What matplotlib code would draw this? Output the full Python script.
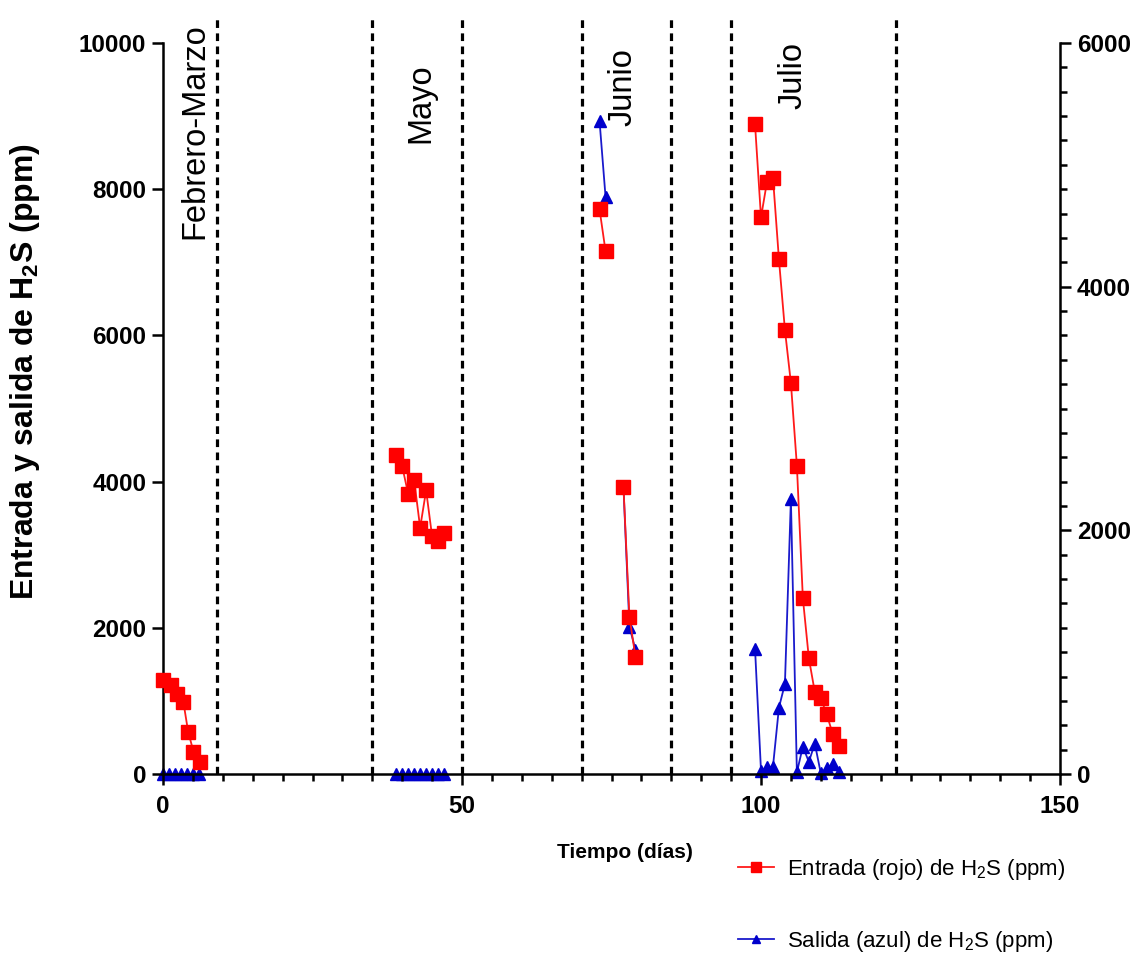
import matplotlib
matplotlib.use('agg')
import matplotlib.pyplot as plt
from matplotlib.ticker import MultipleLocator
from matplotlib.lines import Line2D

# H2S inlet (left axis, ppm), one list per sampling campaign
in_feb_days = [0, 1.3, 2.4, 3.4, 4.2, 5.1, 6.2]
in_feb_ppm = [1280, 1220, 1100, 990, 580, 305, 170]
in_may_days = [39, 40, 41, 42, 43, 44, 45, 46, 47]
in_may_ppm = [4370, 4210, 3830, 4020, 3370, 3880, 3250, 3190, 3300]
in_jun1_days = [73, 74]
in_jun1_ppm = [7725, 7155]
in_jun2_days = [77, 78, 79]
in_jun2_ppm = [3930, 2150, 1605]
in_jul_days = [99, 100, 101, 102, 103, 104, 105, 106, 107, 108, 109, 110, 111, 112, 113]
in_jul_ppm = [8890, 7615, 8100, 8160, 7040, 6075, 5350, 4220, 2405, 1585, 1120, 1035, 815, 545, 385]

# H2S outlet (right axis, ppm)
out_feb_days = [0, 1, 2, 3, 4, 5, 6]
out_feb_ppm = [0, 0, 0, 0, 0, 0, 0]
out_may_days = [39, 40, 41, 42, 43, 44, 45, 46, 47]
out_may_ppm = [0, 0, 0, 0, 0, 0, 0, 0, 0]
out_jun1_days = [73, 74]
out_jun1_ppm = [5360, 4740]
out_jun2_days = [77, 78, 79]
out_jun2_ppm = [2358, 1210, 1020]
out_jul_days = [99, 100, 101, 102, 103, 104, 105, 106, 107, 108, 109, 110, 111, 112, 113]
out_jul_ppm = [1030, 27, 55, 60, 545, 740, 2255, 14, 225, 100, 250, 6, 47, 82, 19]

# campaign boundaries (days) and labels
period_bounds = [9, 35, 50, 70, 85, 95, 122.5]
period_names = ['Febrero-Marzo', 'Mayo', 'Junio', 'Julio']
period_label_x = [5.4, 43.2, 76.9, 105.4]
period_label_y = [8800, 9170, 9400, 9550]

plt.rcParams['font.family'] = ['Liberation Sans', 'DejaVu Sans']

fig = plt.figure(figsize=(11.35, 9.56), dpi=100)
ax = fig.add_axes([163 / 1135, 1 - 774 / 956, 897 / 1135, 731 / 956])
ax2 = ax.twinx()
# keep the inlet series drawn over the outlet one
ax.set_zorder(ax2.get_zorder() + 1)
ax.patch.set_visible(False)

red_kw = dict(color='#ff1a1a', lw=1.3, marker='s', ms=10, mfc='#ff0000', mec='#ff0000', clip_on=False)
blue_kw = dict(color='#1a1acc', lw=1.3, marker='^', ms=8.5, mfc='#0000cc', mec='#0000cc', clip_on=False)

for d, v in [(in_feb_days, in_feb_ppm), (in_may_days, in_may_ppm), (in_jun1_days, in_jun1_ppm),
             (in_jun2_days, in_jun2_ppm), (in_jul_days, in_jul_ppm)]:
    ax.plot(d, v, zorder=4, **red_kw)

for d, v in [(out_feb_days, out_feb_ppm), (out_may_days, out_may_ppm), (out_jun1_days, out_jun1_ppm),
             (out_jun2_days, out_jun2_ppm), (out_jul_days, out_jul_ppm)]:
    ax2.plot(d, v, zorder=4, **blue_kw)

ax.vlines(period_bounds, 0, 10380, colors='black', lw=2.3, linestyles=(0, (2.4, 1.7)),
          clip_on=False, zorder=2)

for name, x, y in zip(period_names, period_label_x, period_label_y):
    ax.text(x, y, name, rotation=90, ha='center', va='center', fontsize=23.5,
            clip_on=False)

ax.set_xlim(0, 150)
ax.set_ylim(0, 10000)
ax2.set_ylim(0, 6000)
ax.xaxis.set_major_locator(MultipleLocator(50))
ax.xaxis.set_minor_locator(MultipleLocator(5))
ax.yaxis.set_major_locator(MultipleLocator(2000))
ax2.yaxis.set_major_locator(MultipleLocator(2000))
ax2.yaxis.set_minor_locator(MultipleLocator(200))

for a in (ax, ax2):
    for s in a.spines.values():
        s.set_linewidth(1.8)
    a.spines['top'].set_visible(False)
ax.spines['right'].set_visible(False)
ax2.spines['left'].set_visible(False)
ax2.spines['bottom'].set_visible(False)

ax.tick_params(axis='both', which='major', direction='out', length=8, width=1.8,
               labelsize=17.5, pad=4)
ax.tick_params(axis='x', which='major', pad=7)
ax.tick_params(axis='x', which='minor', direction='out', length=5, width=1.8)
ax2.tick_params(axis='y', which='major', direction='out', length=8, width=1.8,
                labelsize=17.5, pad=4)
ax2.tick_params(axis='y', which='minor', direction='out', length=5, width=1.8)
for lab in ax.get_xticklabels() + ax.get_yticklabels() + ax2.get_yticklabels():
    lab.set_fontweight('bold')

ax.set_xlabel('Tiempo (días)', fontsize=15, fontweight='bold')
ax.xaxis.set_label_coords(0.515, -0.095)
ax.set_ylabel('Entrada y salida de H$_\\mathregular{2}$S (ppm)', fontsize=23,
              fontweight='bold')
ax.yaxis.set_label_coords(-0.135, 0.55)

handles = [Line2D([], [], color='#ff1a1a', lw=1.3, marker='s', ms=7, mfc='#ff0000', mec='#ff0000'),
           Line2D([], [], color='#1a1acc', lw=1.3, marker='^', ms=6, mfc='#0000cc', mec='#0000cc')]
labels = ['Entrada (rojo) de H$_\\mathregular{2}$S (ppm)', 'Salida (azul) de H$_\\mathregular{2}$S (ppm)']
fig.legend(handles, labels, loc='upper left', bbox_to_anchor=(738 / 1135, 1 - 857 / 956),
           frameon=False, fontsize=16, handlelength=1.6, handletextpad=0.6,
           labelspacing=2.1, borderpad=0, borderaxespad=0)

fig.savefig('out.png', dpi=100)
